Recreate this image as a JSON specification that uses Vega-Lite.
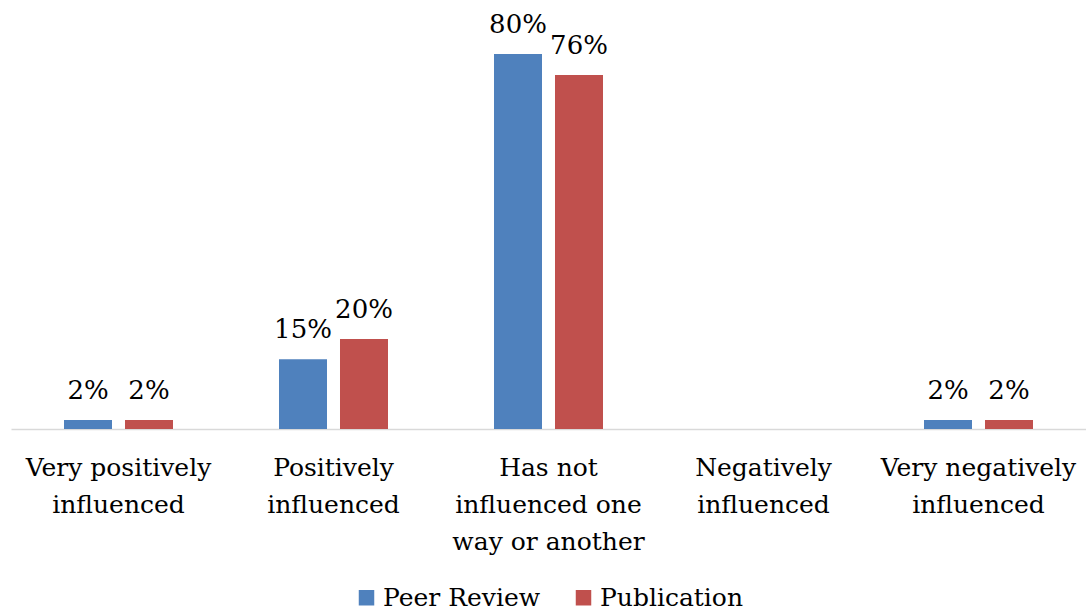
{
  "$schema": "https://vega.github.io/schema/vega-lite/v6.json",
  "width": 1075,
  "height": 429,
  "autosize": "none",
  "padding": {"left": 11, "top": 0, "right": 0, "bottom": 182},
  "background": "white",
  "config": {
    "view": {"stroke": null},
    "font": "DejaVu Serif",
    "text": {"font": "DejaVu Serif"},
    "axis": {"labelFont": "DejaVu Serif"},
    "legend": {"labelFont": "DejaVu Serif"}
  },
  "data": {
    "values": [
      {"category": "Very positively influenced", "series": "Peer Review", "value": 0.019, "label": "2%"},
      {"category": "Very positively influenced", "series": "Publication", "value": 0.019, "label": "2%"},
      {"category": "Positively influenced", "series": "Peer Review", "value": 0.149, "label": "15%"},
      {"category": "Positively influenced", "series": "Publication", "value": 0.192, "label": "20%"},
      {"category": "Has not influenced one way or another", "series": "Peer Review", "value": 0.80, "label": "80%"},
      {"category": "Has not influenced one way or another", "series": "Publication", "value": 0.755, "label": "76%"},
      {"category": "Negatively influenced", "series": "Peer Review", "value": 0, "label": ""},
      {"category": "Negatively influenced", "series": "Publication", "value": 0, "label": ""},
      {"category": "Very negatively influenced", "series": "Peer Review", "value": 0.019, "label": "2%"},
      {"category": "Very negatively influenced", "series": "Publication", "value": 0.019, "label": "2%"}
    ]
  },
  "encoding": {
    "x": {
      "field": "category",
      "type": "nominal",
      "sort": null,
      "scale": {"paddingInner": 0.493, "paddingOuter": 0.2465},
      "axis": {
        "title": null,
        "domain": true,
        "domainColor": "#d9d9d9",
        "domainWidth": 1.5,
        "ticks": false,
        "labelAngle": 0,
        "labelFontSize": 25,
        "labelLimit": 0,
        "labelColor": "#000000",
        "labelPadding": 38,
        "labelLineHeight": 37,
        "labelBaseline": "middle",
        "labelExpr": "datum.label == 'Very positively influenced' ? ['Very positively', 'influenced'] : datum.label == 'Positively influenced' ? ['Positively', 'influenced'] : datum.label == 'Has not influenced one way or another' ? ['Has not', 'influenced one', 'way or another'] : datum.label == 'Negatively influenced' ? ['Negatively', 'influenced'] : ['Very negatively', 'influenced']"
      }
    },
    "xOffset": {
      "field": "series",
      "type": "nominal",
      "scale": {"paddingInner": 0.213, "paddingOuter": 0}
    },
    "y": {
      "field": "value",
      "type": "quantitative",
      "scale": {"domain": [0, 0.9152], "nice": false, "zero": true},
      "axis": null
    }
  },
  "layer": [
    {
      "mark": {"type": "bar"},
      "encoding": {
        "color": {
          "field": "series",
          "type": "nominal",
          "scale": {"domain": ["Peer Review", "Publication"], "range": ["#4F81BD", "#C0504D"]},
          "legend": {
            "title": null,
            "orient": "none",
            "direction": "horizontal",
            "legendX": 343,
            "legendY": 585,
            "symbolType": "square",
            "symbolSize": 240,
            "symbolStrokeWidth": 0,
            "labelFontSize": 25,
            "labelLimit": 0,
            "labelColor": "#000000",
            "labelOffset": 4,
            "columnPadding": 30
          }
        }
      }
    },
    {
      "mark": {"type": "text", "baseline": "bottom", "dy": -16, "fontSize": 26, "color": "#000000"},
      "encoding": {
        "text": {"field": "label"}
      }
    }
  ]
}
